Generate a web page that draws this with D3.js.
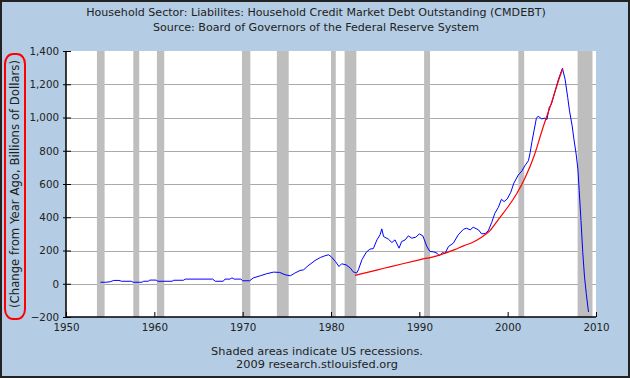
<!DOCTYPE html>
<html><head><meta charset="utf-8">
<script src="https://cdn.jsdelivr.net/npm/d3@7"></script>
<style>body{margin:0;background:#fff}svg{display:block}text{font-family:"DejaVu Sans",Verdana,sans-serif;fill:#222}</style>
</head><body>
<svg id="c" width="630" height="378"></svg>
<script>
const titleLines = ["Household Sector: Liabilites: Household Credit Market Debt Outstanding (CMDEBT)", "Source: Board of Governors of the Federal Reserve System"];
const footerLines = ["Shaded areas indicate US recessions.", "2009 research.stlouisfed.org"];
const yAxisLabel = "(Change from Year Ago, Billions of Dollars)";
const yTicks = [-200, 0, 200, 400, 600, 800, 1000, 1200, 1400];
const xTicks = [1950, 1960, 1970, 1980, 1990, 2000, 2010];
const recessionStarts = [1953.5, 1957.62, 1960.29, 1969.92, 1973.87, 1980.0, 1981.54, 1990.54, 2001.21, 2007.92];
const recessionEnds   = [1954.37, 1958.29, 1961.12, 1970.87, 1975.21, 1980.54, 1982.87, 1991.21, 2001.87, 2009.6];
const debtYears = [1953.9,1954.5,1955.0,1955.4,1956.0,1956.3,1957.4,1957.6,1958.6,1958.8,1959.3,1959.5,1960.2,1960.4,1962.0,1962.2,1963.3,1963.5,1966.6,1966.9,1967.8,1968.0,1968.6,1968.7,1968.9,1969.0,1969.8,1970.0,1970.8,1971.2,1972.0,1972.7,1973.5,1974.2,1974.8,1975.4,1975.9,1976.5,1976.9,1977.4,1978.2,1978.8,1979.3,1979.7,1980.0,1980.5,1980.9,1981.2,1981.7,1982.2,1982.5,1982.9,1983.1,1983.5,1984.0,1984.4,1984.8,1985.2,1985.55,1985.75,1985.95,1986.5,1986.9,1987.25,1987.7,1988.0,1988.4,1988.75,1989.15,1989.6,1990.0,1990.4,1990.85,1991.2,1991.6,1992.0,1992.25,1992.65,1992.9,1993.3,1993.85,1994.4,1995.0,1995.35,1995.75,1996.1,1996.7,1997.05,1997.45,1997.8,1998.2,1998.55,1998.95,1999.3,1999.6,1999.95,2000.35,2000.7,2001.2,2001.6,2001.95,2002.35,2002.55,2002.75,2003.0,2003.25,2003.45,2003.85,2004.2,2004.45,2004.7,2004.95,2005.35,2005.75,2006.2,2006.5,2006.8,2007.0,2007.3,2007.5,2007.75,2007.95,2008.1,2008.3,2008.5,2008.7,2008.9,2009.15];
const debtValues = [9,9,12,20,20,15,15,9,9,15,15,22,22,15,15,21,21,28,28,15,15,28,28,34,34,28,28,18,18,35,48,60,70,68,54,48,64,80,84,108,140,158,168,174,164,134,104,120,114,94,72,64,84,144,190,208,212,264,294,330,284,268,248,264,214,254,264,288,274,280,300,288,224,194,192,184,168,188,182,224,244,294,328,334,324,340,324,300,302,318,370,424,460,508,494,510,550,605,654,678,710,740,790,855,925,995,1008,992,996,988,1060,1080,1155,1230,1296,1230,1120,1040,950,870,780,690,560,380,190,40,-60,-170];
const trendYears  = [1982.7,1984,1986,1988,1990,1992,1994,1995,1996,1997,1998,1999,2000,2001,2002,2003,2004,2005,2006,2006.25];
const trendValues = [50,67,93,119,144,168,205,228,248,278,320,390,460,540,640,770,940,1095,1260,1295];

const svg = d3.select("#c");
const W = 630, H = 378;
const m = {left: 66, right: 596, top: 51, bottom: 317};
svg.append("rect").attr("x",1).attr("y",1).attr("width",W-2).attr("height",H-2)
  .attr("fill","#b4cde4").attr("stroke","#222").attr("stroke-width",2);

const x = d3.scaleLinear().domain([1950, 2010]).range([m.left, m.right]);
const y = d3.scaleLinear().domain([-200, 1400]).range([m.bottom, m.top]);

svg.append("rect").attr("x",m.left).attr("y",m.top).attr("width",m.right-m.left).attr("height",m.bottom-m.top).attr("fill","#fff");

svg.append("g").selectAll("line").data(yTicks.filter(v => v > -200 && v < 1400)).join("line")
  .attr("x1", m.left).attr("x2", m.right).attr("y1", d => Math.round(y(d))+0.5).attr("y2", d => Math.round(y(d))+0.5)
  .attr("stroke","#aaaaaa").attr("stroke-width",1);

svg.append("g").selectAll("rect").data(recessionStarts.map((s,i)=>[s, recessionEnds[i]])).join("rect")
  .attr("x", d => x(d[0])).attr("width", d => x(d[1]) - x(d[0]))
  .attr("y", m.top).attr("height", m.bottom - m.top).attr("fill","#bebebe");

svg.append("clipPath").attr("id","clip").append("rect")
  .attr("x",m.left).attr("y",m.top).attr("width",m.right-m.left).attr("height",m.bottom-m.top);

const lineGen = d3.line().x(d => x(d[0])).y(d => y(d[1]));
svg.append("path").datum(debtYears.map((t,i)=>[t, debtValues[i]])).attr("clip-path","url(#clip)")
  .attr("d", lineGen).attr("fill","none").attr("stroke","#0000ff").attr("stroke-width",1);
svg.append("path").datum(trendYears.map((t,i)=>[t, trendValues[i]])).attr("clip-path","url(#clip)")
  .attr("d", d3.line().curve(d3.curveMonotoneX).x(d => x(d[0])).y(d => y(d[1])))
  .attr("fill","none").attr("stroke","#ff0000").attr("stroke-width",1.2);

const fmt = d3.format(",");
const yAxis = svg.append("g").attr("transform", `translate(${m.left},0)`)
  .call(d3.axisLeft(y).tickValues(yTicks).tickFormat(fmt).tickSize(3).tickPadding(4));
yAxis.selectAll(".tick line").clone().attr("x2", 5);
const xAxis = svg.append("g").attr("transform", `translate(0,${m.bottom})`)
  .call(d3.axisBottom(x).tickValues(xTicks).tickFormat(d3.format("d")).tickSize(0).tickPadding(7));
xAxis.selectAll(".tick line").attr("y2", -5);
[yAxis, xAxis].forEach(a => {
  a.selectAll("text").style("font-family","'DejaVu Sans',Verdana,sans-serif").style("font-size","10.3px").attr("fill","#222");
  a.selectAll("line").attr("stroke","#000");
  a.select(".domain").attr("stroke","#000").attr("stroke-width",1.5);
});
yAxis.select(".domain").attr("d", `M0,${m.top}V${m.bottom}`);
xAxis.select(".domain").attr("d", `M${m.left},0H${m.right}`);

// size text so the first line matches the width measured in the reference
function fitSize(text, target) {
  const t = svg.append("text").style("font-size","10px").text(text);
  const len = t.node().getComputedTextLength();
  t.remove();
  return (10 * target / len).toFixed(2) + "px";
}
const titleSize = fitSize(titleLines[0], 460);
titleLines.forEach((t,i) => {
  svg.append("text").attr("x", 316).attr("y", 16 + i*15).attr("text-anchor","middle").style("font-size", titleSize).text(t);
});
const footSize = fitSize(footerLines[0], 212);
footerLines.forEach((t,i) => {
  svg.append("text").attr("x", 317).attr("y", 355 + i*13).attr("text-anchor","middle").style("font-size", footSize).text(t);
});

svg.append("text").attr("transform","translate(19,184) rotate(-90)").attr("text-anchor","middle")
  .style("font-size", fitSize(yAxisLabel, 248)).text(yAxisLabel);
svg.append("rect").attr("x",5).attr("y",54).attr("width",20).attr("height",265).attr("rx",8).attr("ry",10)
  .attr("fill","none").attr("stroke","#ff0000").attr("stroke-width",2);
</script>
</body></html>
